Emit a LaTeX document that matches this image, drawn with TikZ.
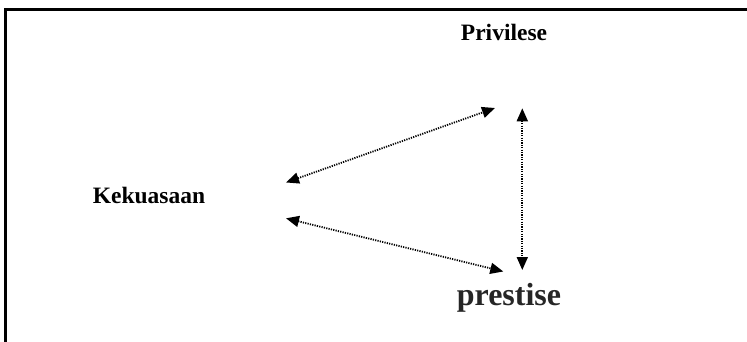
\documentclass[tikz,border=0pt]{standalone}
\usepackage{fontspec}
\setmainfont{Liberation Serif}
\usetikzlibrary{arrows.meta}
\tikzset{
  lbl/.style={anchor=base, inner sep=0pt, font=\bfseries\fontsize{23.5}{27}\selectfont},
  biglbl/.style={anchor=base, inner sep=0pt, font=\bfseries\fontsize{32}{37}\selectfont, text=black!85},
  link/.style={line width=1.8pt, dash pattern=on 1.2pt off 1.2pt, {Triangle[length=13pt,width=11pt]}-{Triangle[length=13pt,width=11pt]}}
}
\begin{document}
\begin{tikzpicture}[x=1pt,y=-1pt]
  \useasboundingbox (0,0) rectangle (747,342);
  \begin{scope}
    \clip (0,0) rectangle (747,342);
    \draw[line width=3pt] (5.5,10) rectangle (770,370);
  \end{scope}
  \node[lbl] (priv) at (504,41) {Privilese};
  \node[lbl] (kek) at (149,204) {Kekuasaan};
  \node[biglbl] (pres) at (509,305) {prestise};
  \coordinate (kA) at (286,182.5);
  \coordinate (kB) at (286,218.3);
  \coordinate (pA) at (495,108);
  \coordinate (pB) at (522.3,108.3);
  \coordinate (sA) at (503.3,271.5);
  \coordinate (sB) at (522.3,270);
  \draw[link] (kA) -- (pA);
  \draw[link] (kB) -- (sA);
  \draw[link] (pB) -- (sB);
\end{tikzpicture}
\end{document}
